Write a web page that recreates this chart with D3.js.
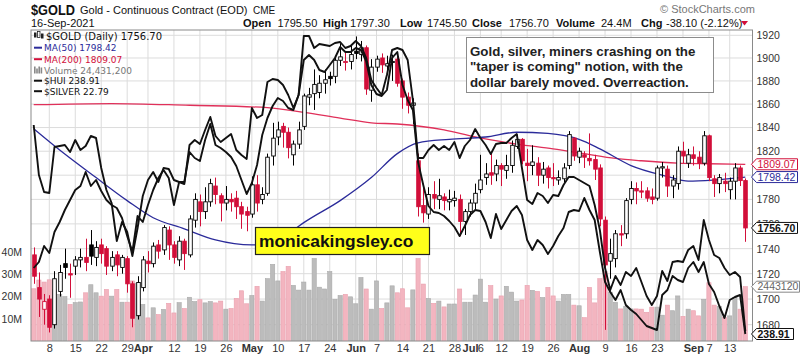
<!DOCTYPE html>
<html><head><meta charset="utf-8">
<script src="https://cdn.jsdelivr.net/npm/d3@7"></script>
<style>body{margin:0;background:#fff}svg{display:block}</style>
</head><body><svg id="c" width="803" height="358"></svg>
<script>
const dates = [
"2021-03-03","2021-03-04","2021-03-05","2021-03-08","2021-03-09","2021-03-10","2021-03-11","2021-03-12","2021-03-15","2021-03-16",
"2021-03-17","2021-03-18","2021-03-19","2021-03-22","2021-03-23","2021-03-24","2021-03-25","2021-03-26","2021-03-29","2021-03-30",
"2021-03-31","2021-04-01","2021-04-05","2021-04-06","2021-04-07","2021-04-08","2021-04-09","2021-04-12","2021-04-13","2021-04-14",
"2021-04-15","2021-04-16","2021-04-19","2021-04-20","2021-04-21","2021-04-22","2021-04-23","2021-04-26","2021-04-27","2021-04-28",
"2021-04-29","2021-04-30","2021-05-03","2021-05-04","2021-05-05","2021-05-06","2021-05-07","2021-05-10","2021-05-11","2021-05-12",
"2021-05-13","2021-05-14","2021-05-17","2021-05-18","2021-05-19","2021-05-20","2021-05-21","2021-05-24","2021-05-25","2021-05-26",
"2021-05-27","2021-05-28","2021-06-01","2021-06-02","2021-06-03","2021-06-04","2021-06-07","2021-06-08","2021-06-09","2021-06-10",
"2021-06-11","2021-06-14","2021-06-15","2021-06-16","2021-06-17","2021-06-18","2021-06-21","2021-06-22","2021-06-23","2021-06-24",
"2021-06-25","2021-06-28","2021-06-29","2021-06-30","2021-07-01","2021-07-02","2021-07-06","2021-07-07","2021-07-08","2021-07-09",
"2021-07-12","2021-07-13","2021-07-14","2021-07-15","2021-07-16","2021-07-19","2021-07-20","2021-07-21","2021-07-22","2021-07-23",
"2021-07-26","2021-07-27","2021-07-28","2021-07-29","2021-07-30","2021-08-02","2021-08-03","2021-08-04","2021-08-05","2021-08-06",
"2021-08-09","2021-08-10","2021-08-11","2021-08-12","2021-08-13","2021-08-16","2021-08-17","2021-08-18","2021-08-19","2021-08-20",
"2021-08-23","2021-08-24","2021-08-25","2021-08-26","2021-08-27","2021-08-30","2021-08-31","2021-09-01","2021-09-02","2021-09-03",
"2021-09-07","2021-09-08","2021-09-09","2021-09-10","2021-09-13","2021-09-14","2021-09-15","2021-09-16"];

const open = [
1735,1709,1692,1700,1680,1706,1728,1720,1726,1731,
1733,1743,1733,1743,1740,1726,1735,1725,1732,1712,
1687,1709,1730,1728,1743,1739,1755,1743,1731,1746,
1735,1763,1778,1770,1778,1791,1783,1777,1780,1781,
1774,1770,1768,1792,1780,1785,1816,1832,1841,1836,
1817,1826,1841,1866,1869,1870,1878,1884,1884,1898,
1896,1897,1906,1903,1909,1872,1892,1900,1893,1896,
1899,1880,1866,1859,1812,1775,1768,1784,1780,1782,
1778,1779,1780,1762,1770,1777,1788,1798,1802,1801,
1808,1804,1808,1824,1830,1810,1808,1810,1800,1806,
1798,1796,1797,1808,1831,1815,1817,1814,1813,1806,
1763,1730,1732,1752,1752,1780,1789,1787,1787,1782,
1781,1806,1805,1791,1793,1820,1810,1817,1815,1810,
1833,1797,1793,1795,1788,1795,1806,1795.5];
const high = [
1741,1721,1704,1703,1722,1727,1740,1728,1734,1740,
1748,1755,1746,1748,1742,1738,1738,1735,1734,1714,
1718,1734,1738,1745,1747,1759,1758,1746,1750,1748,
1767,1785,1784,1790,1797,1798,1785,1791,1785,1787,
1778,1774,1799,1800,1790,1818,1844,1845,1844,1840,
1829,1845,1869,1874,1890,1885,1890,1888,1900,1913,
1906,1911,1919,1915,1911,1899,1902,1904,1902,1903,
1903,1882,1870,1865,1818,1790,1790,1795,1797,1785,
1788,1787,1784,1772,1780,1793,1817,1810,1819,1813,
1810,1817,1829,1834,1831,1822,1825,1815,1811,1808,
1810,1804,1810,1837,1832,1823,1820,1835,1817,1809,
1766,1748,1755,1759,1781,1795,1794,1795,1790,1789,
1808,1811,1808,1800,1824,1828,1822,1824,1820,1837,
1834,1800,1801,1802,1798,1810,1808,1797.3];
const low = [
1712,1686,1680,1674,1677,1702,1716,1701,1719,1725,
1722,1727,1726,1728,1719,1722,1718,1720,1705,1678,
1684,1706,1721,1725,1732,1735,1731,1728,1726,1723,
1733,1757,1758,1764,1774,1776,1762,1771,1770,1764,
1756,1754,1765,1770,1776,1783,1808,1825,1823,1814,
1808,1822,1838,1859,1855,1865,1869,1876,1878,1893,
1889,1890,1899,1897,1868,1862,1888,1887,1885,1880,
1875,1856,1852,1843,1766,1761,1764,1772,1772,1771,
1771,1774,1750,1751,1766,1772,1785,1792,1792,1795,
1791,1797,1802,1822,1809,1795,1800,1791,1793,1789,
1791,1792,1794,1805,1812,1810,1806,1808,1796,1758,
1676,1716,1725,1742,1748,1776,1776,1781,1778,1776,
1779,1798,1782,1781,1788,1810,1806,1808,1805,1808,
1795,1782,1785,1786,1780,1780,1791,1745.5];
const close = [
1718,1700,1698,1678,1716,1721,1725,1719,1731,1733,
1729,1734,1741,1736,1726,1733,1727,1733,1712,1685,
1713,1731,1728,1742,1738,1757,1743,1733,1746,1736,
1764,1780,1770,1778,1793,1784,1777,1780,1778,1774,
1768,1767,1792,1777,1784,1815,1831,1838,1836,1823,
1826,1838,1867,1868,1877,1878,1881,1882,1898,1901,
1897,1903,1904,1909,1873,1892,1899,1894,1895,1897,
1878,1866,1859,1861,1774,1769,1784,1781,1783,1779,
1780,1781,1762,1770,1777,1785,1796,1801,1800,1808,
1805,1808,1825,1830,1812,1808,1811,1800,1805,1798,
1797,1798,1806,1834,1816,1820,1815,1812,1805,1764,
1727,1736,1752,1751,1779,1789,1787,1786,1781,1780,
1806,1807,1791,1796,1820,1816,1817,1814,1810,1833,
1798,1793,1798,1793,1795,1806,1795.5,1756.7];
const priorClose = 1733;

// volume in millions
const volume = [
23.5,27.4,26.5,27.5,23,21,20,16.5,17.3,17.6,
21.7,25.3,21.7,20.2,23.2,20.2,23.2,17.5,17.5,27,
26,16.5,10.5,15,12,14.3,17,12.7,17.3,14.7,
19.7,17.8,18.6,17.2,17.8,17.2,18,14.4,14.7,19.2,
22.6,16.8,20.5,24.6,18,28,34.4,27,31.2,33.5,
25,22.9,26.5,22.9,37,24.2,23.4,31.2,18.8,20.5,
21,19.9,16.8,28.5,23.4,14.4,27,14.7,17.2,24.8,
21.7,23.5,15,23,37,25.6,19.1,17,18,15.4,
16.7,16.7,23.4,17.5,17.5,20.7,27.8,17.5,24.9,18.9,
20.3,24.6,22,18,18.5,25,22.8,22.3,19.6,24.1,
20.3,18,21,21,16.2,15.9,10.6,24.1,17.2,28,
31.2,22,17.5,14.5,15.7,14.5,14.5,14.4,13,15.3,
15.3,11.7,16.2,13.7,20.3,11.2,14.4,13.7,11.4,18.8,
26.2,16.2,15.6,10.6,11.4,19.6,14.4,24.43];

const silver = [
26.91,25.91,25.57,25.55,26.47,26.49,26.51,26.37,26.61,26.41,
26.49,26.69,26.65,26.05,25.61,25.35,24.59,24.97,24.77,24.29,
24.85,25.49,25.81,25.97,25.77,26.05,26.03,25.81,25.77,25.73,
26.51,26.61,26.53,26.81,27.07,26.69,26.57,26.65,26.73,26.41,
26.31,26.23,27.25,27.05,27.11,27.77,27.83,27.81,27.71,27.51,
27.25,27.51,28.69,28.69,28.45,28.53,28.51,28.49,28.55,28.57,
28.45,28.49,28.59,28.49,28.25,27.81,27.65,27.51,27.91,28.41,
28.45,28.41,28.21,27.41,26.25,26.25,26.41,26.51,26.41,26.49,
26.41,26.57,26.25,26.49,26.61,26.83,26.65,26.51,26.33,26.53,
26.55,26.55,26.65,26.73,26.05,25.41,25.33,25.55,25.49,25.35,
25.51,25.49,25.71,25.87,25.87,25.81,25.75,25.69,25.31,24.81,
24.05,23.61,23.89,23.71,23.97,23.89,24.05,23.77,23.49,23.31,
23.49,23.99,23.79,24.17,24.19,24.17,24.41,24.49,24.21,25.01,
24.61,24.31,24.25,24.05,23.91,23.97,23.87,22.79];

const hui = [
255.41,256.91,260.91,259.16,264.41,266.91,269.91,272.41,274.91,275.91,
279.41,275.91,277.41,274.66,272.41,271.16,270.41,267.91,263.41,259.41,
268.41,266.91,271.16,274.91,277.91,279.91,277.91,271.16,276.91,276.91,
284.41,282.91,282.16,287.41,291.41,286.16,285.41,284.41,283.16,280.91,
277.41,273.91,276.66,281.16,288.66,292.91,295.91,297.91,297.16,295.41,
294.91,298.66,307.41,308.66,307.41,304.91,304.41,306.16,307.91,310.66,
309.41,309.41,310.41,309.91,307.16,301.16,298.91,298.41,299.91,307.91,
309.41,301.16,297.41,294.91,281.91,276.16,270.91,269.41,269.16,268.41,
267.16,265.66,263.41,265.91,268.66,269.91,269.66,266.91,262.91,268.91,
265.16,267.41,269.66,270.91,268.66,262.41,259.91,262.41,261.16,258.91,
260.91,263.41,265.41,269.41,269.91,269.66,272.91,269.91,267.41,259.41,
251.91,249.41,247.41,249.91,246.16,244.91,243.91,242.41,240.91,240.41,
239.91,248.66,249.91,253.41,252.41,251.91,255.41,256.91,254.41,256.91,
251.41,249.41,245.91,242.91,247.41,248.16,248.66,238.91];

const ma50Dates = ["2021-03-03","2021-03-10","2021-03-19","2021-03-29","2021-04-06","2021-04-14","2021-04-22","2021-05-03","2021-05-05","2021-05-10","2021-05-13","2021-05-17","2021-05-26","2021-06-04","2021-06-11","2021-06-17","2021-06-25","2021-07-07","2021-07-15","2021-07-23","2021-08-02","2021-08-06","2021-08-16","2021-08-25","2021-08-31","2021-09-08","2021-09-16"];
const ma50Values = [1839,1821,1798,1779,1765,1756,1747,1743,1743.5,1748,1755,1761,1779,1798,1818,1827,1830,1832,1836,1835,1830,1822,1808,1799,1795,1796,1798.42];
const ma200Dates = ["2021-03-03","2021-03-24","2021-04-15","2021-05-06","2021-05-17","2021-05-26","2021-06-04","2021-06-11","2021-06-24","2021-07-02","2021-07-15","2021-07-26","2021-08-03","2021-08-11","2021-08-18","2021-08-27","2021-09-07","2021-09-16"];
const ma200Values = [1859.5,1860.5,1859,1857,1853,1848,1844,1843,1838,1832,1826,1822,1818,1814,1812,1810,1809.5,1809.07];

const priceGrid = [1680,1700,1720,1740,1760,1780,1800,1820,1840,1860,1880,1900,1920];
const priceLabels = [1680,1700,1720,1740,1760,1780,1820,1840,1860,1880,1900,1920];
const volTicks = [10,20,30,40];
const tickDates = ["2021-03-08","2021-03-15","2021-03-22","2021-03-29","2021-04-01","2021-04-12","2021-04-19","2021-04-26","2021-05-03","2021-05-10","2021-05-17","2021-05-24","2021-06-01","2021-06-07","2021-06-14","2021-06-21","2021-06-28","2021-07-01","2021-07-06","2021-07-12","2021-07-19","2021-07-26","2021-08-02","2021-08-09","2021-08-16","2021-08-23","2021-09-01","2021-09-07","2021-09-13"];
const tickLabels = ["8","15","22","29","Apr","12","19","26","May","10","17","24","Jun","7","14","21","28","Jul","6","12","19","26","Aug","9","16","23","Sep","7","13"];
const monthNames = ["Apr","May","Jun","Jul","Aug","Sep"];

const RED = "#d20f3a", BLUE = "#2b2b9a", MARED = "#e0305a";
const FONT = "'Liberation Sans', Arial, sans-serif";
const svg = d3.select("#c");
const P = {l:31, r:752.5, t:30, b:341};

const x = d3.scalePoint().domain(dates).range([33.7, 745.3]);
const y = d3.scaleLog().domain([1680,1920]).range([324.7, 35.3]);
const yVol = d3.scaleLinear().domain([0,40]).range([341.4, 251.8]);
const ySil = d3.scaleLinear().domain([22.79, 28.71]).range([331, 35]);
const yHui = d3.scaleLinear().domain([238.91, 313.91]).range([334, 34]);

svg.append("defs").append("clipPath").attr("id","pc")
  .append("rect").attr("x",P.l).attr("y",P.t).attr("width",P.r-P.l).attr("height",P.b-P.t);

// grid
const grid = svg.append("g");
grid.selectAll("line.h").data(priceGrid).join("line")
  .attr("x1",P.l).attr("x2",P.r).attr("y1",d=>y(d)).attr("y2",d=>y(d))
  .attr("stroke","#dcdcdc").attr("stroke-width",1);
const dow = s => new Date(s+"T00:00:00Z").getUTCDay();
const weekStarts = dates.filter((d,i)=> i>0 && dow(d) <= dow(dates[i-1]));
grid.selectAll("line.v").data(weekStarts).join("line")
  .attr("x1",d=>x(d)).attr("x2",d=>x(d)).attr("y1",P.t).attr("y2",P.b)
  .attr("stroke","#dcdcdc").attr("stroke-width",1);

const plot = svg.append("g").attr("clip-path","url(#pc)");
const up = (i) => close[i] >= (i===0 ? priorClose : close[i-1]);

// volume
plot.append("g").selectAll("rect").data(volume).join("rect")
  .attr("x",(d,i)=>x(dates[i])-2.1).attr("width",4.2)
  .attr("y",d=>yVol(d)).attr("height",d=>yVol(0)-yVol(d))
  .attr("fill",(d,i)=> up(i) ? "#bcbcbc" : "#f3b5c0")
  .attr("stroke",(d,i)=> up(i) ? "#aaaaaa" : "#e9a0ae").attr("stroke-width",0.6);

// MA lines
const maLine = d3.line().x(d=>x(d[0])).y(d=>y(d[1])).curve(d3.curveMonotoneX);
plot.append("path").datum(ma200Dates.map((d,i)=>[d,ma200Values[i]]))
  .attr("d",maLine).attr("fill","none").attr("stroke",MARED).attr("stroke-width",1.3);
plot.append("path").datum(ma50Dates.map((d,i)=>[d,ma50Values[i]]))
  .attr("d",maLine).attr("fill","none").attr("stroke",BLUE).attr("stroke-width",1.3);

// candles
const cg = plot.append("g");
dates.forEach((d,i)=>{
  const col = up(i) ? "#000" : RED;
  const cx = Math.round(x(d)) + 0.5;
  cg.append("line").attr("x1",cx).attr("x2",cx).attr("y1",y(high[i])).attr("y2",y(low[i]))
    .attr("stroke",col).attr("stroke-width",1);
  const top = y(Math.max(open[i],close[i])), bot = y(Math.min(open[i],close[i]));
  cg.append("rect").attr("x",cx-1.8).attr("width",3.6)
    .attr("y",top).attr("height",Math.max(1,bot-top))
    .attr("fill", close[i] < open[i] ? col : "#fff").attr("stroke",col).attr("stroke-width",0.9);
});

// overlay lines
const silLine = d3.line().x((d,i)=>x(dates[i])).y(d=>ySil(d));
const huiLine = d3.line().x((d,i)=>x(dates[i])).y(d=>yHui(d));
plot.append("path").datum(silver).attr("d",silLine).attr("fill","none").attr("stroke","#111").attr("stroke-width",1.9).attr("stroke-linejoin","round");
plot.append("path").datum(hui).attr("d",huiLine).attr("fill","none").attr("stroke","#111").attr("stroke-width",1.9).attr("stroke-linejoin","round");

// frame
svg.append("rect").attr("x",P.l).attr("y",P.t).attr("width",P.r-P.l).attr("height",P.b-P.t)
  .attr("fill","none").attr("stroke","#8a8a8a").attr("stroke-width",1);

// axes
const ay = svg.append("g").attr("transform",`translate(${P.r},0)`)
  .call(d3.axisRight(y).tickValues(priceLabels).tickFormat(d3.format("d")).tickSize(0).tickPadding(4));
ay.select(".domain").remove();
ay.selectAll("text").attr("font-family",FONT).attr("font-size",10.5).attr("fill","#333");

const av = svg.append("g").attr("transform","translate(25,0)")
  .call(d3.axisLeft(yVol).tickValues(volTicks).tickFormat(d=>d+"M").tickSize(0).tickPadding(3));
av.select(".domain").remove();
av.selectAll("text").attr("font-family",FONT).attr("font-size",10.5).attr("fill","#333");

const ax = svg.append("g").attr("transform",`translate(0,${P.b})`)
  .call(d3.axisBottom(x).tickValues(tickDates).tickFormat((d,i)=>tickLabels[i]).tickSize(0).tickPadding(3.5));
ax.select(".domain").remove();
ax.selectAll("text").attr("font-family",FONT).attr("font-size",11).attr("fill","#333")
  .attr("font-weight",(d,i)=> monthNames.includes(tickLabels[i]) ? "bold" : "normal");

// header
const T = (xx,yy,txt,size,opt={}) => svg.append("text").attr("x",xx).attr("y",yy).text(txt)
  .attr("font-family",opt.family||FONT).attr("font-size",size)
  .attr("font-weight",opt.bold?"bold":"normal").attr("fill",opt.fill||"#111");
T(31,14.5,"$GOLD",14,{bold:true}).attr("textLength",44).attr("lengthAdjust","spacingAndGlyphs");
T(80,13.5,"Gold - Continuous Contract (EOD)",11);
T(253,13.5,"CME",10);
T(31,26.5,"16-Sep-2021",11);
T(660,12.5,"© StockCharts.com",11,{fill:"#777"});
const stats = [["Open",1,243],["1795.50",0,277.5],["High",1,323],["1797.30",0,350],["Low",1,400],["1745.50",0,427],
  ["Close",1,472],["1756.70",0,509],["Volume",1,556],["24.4M",0,601],["Chg",1,641],["-38.10 (-2.12%)",0,666]];
stats.forEach(s=>T(s[2],26.5,s[0],11,{bold:!!s[1]}));
svg.append("path").attr("d","M741,21 L748,21 L744.5,25.5 Z").attr("fill",RED);

// legend
const LF = "'DejaVu Sans', Verdana, sans-serif";
const leg = [
  ["$GOLD (Daily) 1756.70",39.5,"#111",10,"candle"],
  ["MA(50) 1798.42",51,BLUE,9,"dash"],
  ["MA(200) 1809.07",62.5,RED,9,"dash"],
  ["Volume 24,431,200",73.5,"#777",9,"vol"],
  ["$HUI 238.91",84,"#111",9,"dash"],
  ["$SILVER 22.79",94.5,"#111",9,"dash"]];
leg.forEach(l=>{
  T(l[4]==="candle"?46:44,l[1],l[0],l[3],{family:LF,fill:l[2]});
  if(l[4]==="dash") svg.append("line").attr("x1",34).attr("x2",42).attr("y1",l[1]-3.3).attr("y2",l[1]-3.3).attr("stroke",l[2]).attr("stroke-width",2);
  if(l[4]==="vol") [0,1,2,3].forEach(k=>svg.append("rect").attr("x",34+k*2.2).attr("y",l[1]-7+(k%2?2:0)+(k==3?-1:0)).attr("width",1.6).attr("height",7-(k%2?2:0)+(k==3?1:0)).attr("fill","#888"));
  if(l[4]==="candle"){
    svg.append("rect").attr("x",34).attr("y",l[1]-7).attr("width",2.5).attr("height",5).attr("fill","#222");
    svg.append("rect").attr("x",37.5).attr("y",l[1]-8).attr("width",2.5).attr("height",6).attr("fill","none").attr("stroke","#222").attr("stroke-width",0.8);
    svg.append("rect").attr("x",41).attr("y",l[1]-6).attr("width",2.5).attr("height",5).attr("fill","#222");
  }
});

// annotation box
svg.append("rect").attr("x",466.5).attr("y",37.5).attr("width",247).attr("height",55)
  .attr("fill","#fff").attr("stroke","#8c8c8c").attr("stroke-width",1);
["Gold, silver, miners crashing on the","\"taper is coming\" notion, with the","dollar barely moved. Overreaction."]
  .forEach((s,i)=>T(470,55.5+i*15.5,s,13.3,{bold:true,fill:"#222"}));

// watermark box
svg.append("rect").attr("x",255.5).attr("y",227.5).attr("width",174).attr("height",27)
  .attr("fill","#ffff1a").attr("stroke","#222").attr("stroke-width",1.2);
T(259,247,"monicakingsley.co",17.4,{bold:true,fill:"#111"});

// right tags
function tag(cy, txt, stroke, fill, bold, x1){
  const x0 = 751.5, h = 5.5;
  svg.append("path").attr("d",`M${x0},${cy} L${x0+5},${cy-h} L${x1},${cy-h} L${x1},${cy+h} L${x0+5},${cy+h} Z`)
    .attr("fill","#fff").attr("stroke",stroke).attr("stroke-width",1);
  svg.append("text").attr("x",x0+6).attr("y",cy+3.8).text(txt)
    .attr("font-family",FONT).attr("font-size",10.5).attr("font-weight",bold?"bold":"normal").attr("fill",fill);
}
tag(y(ma200Values[ma200Values.length-1]),"1809.07",RED,RED,false,797.5);
tag(y(ma50Values[ma50Values.length-1]),"1798.42",BLUE,BLUE,false,797.5);
tag(y(close[close.length-1]),"1756.70","#111","#111",true,797.5);
tag(yVol(volume[volume.length-1]),"2443120","#888","#666",false,799.5);
tag(yHui(hui[hui.length-1]),"238.91","#111","#111",true,793.5);
</script></body></html>
